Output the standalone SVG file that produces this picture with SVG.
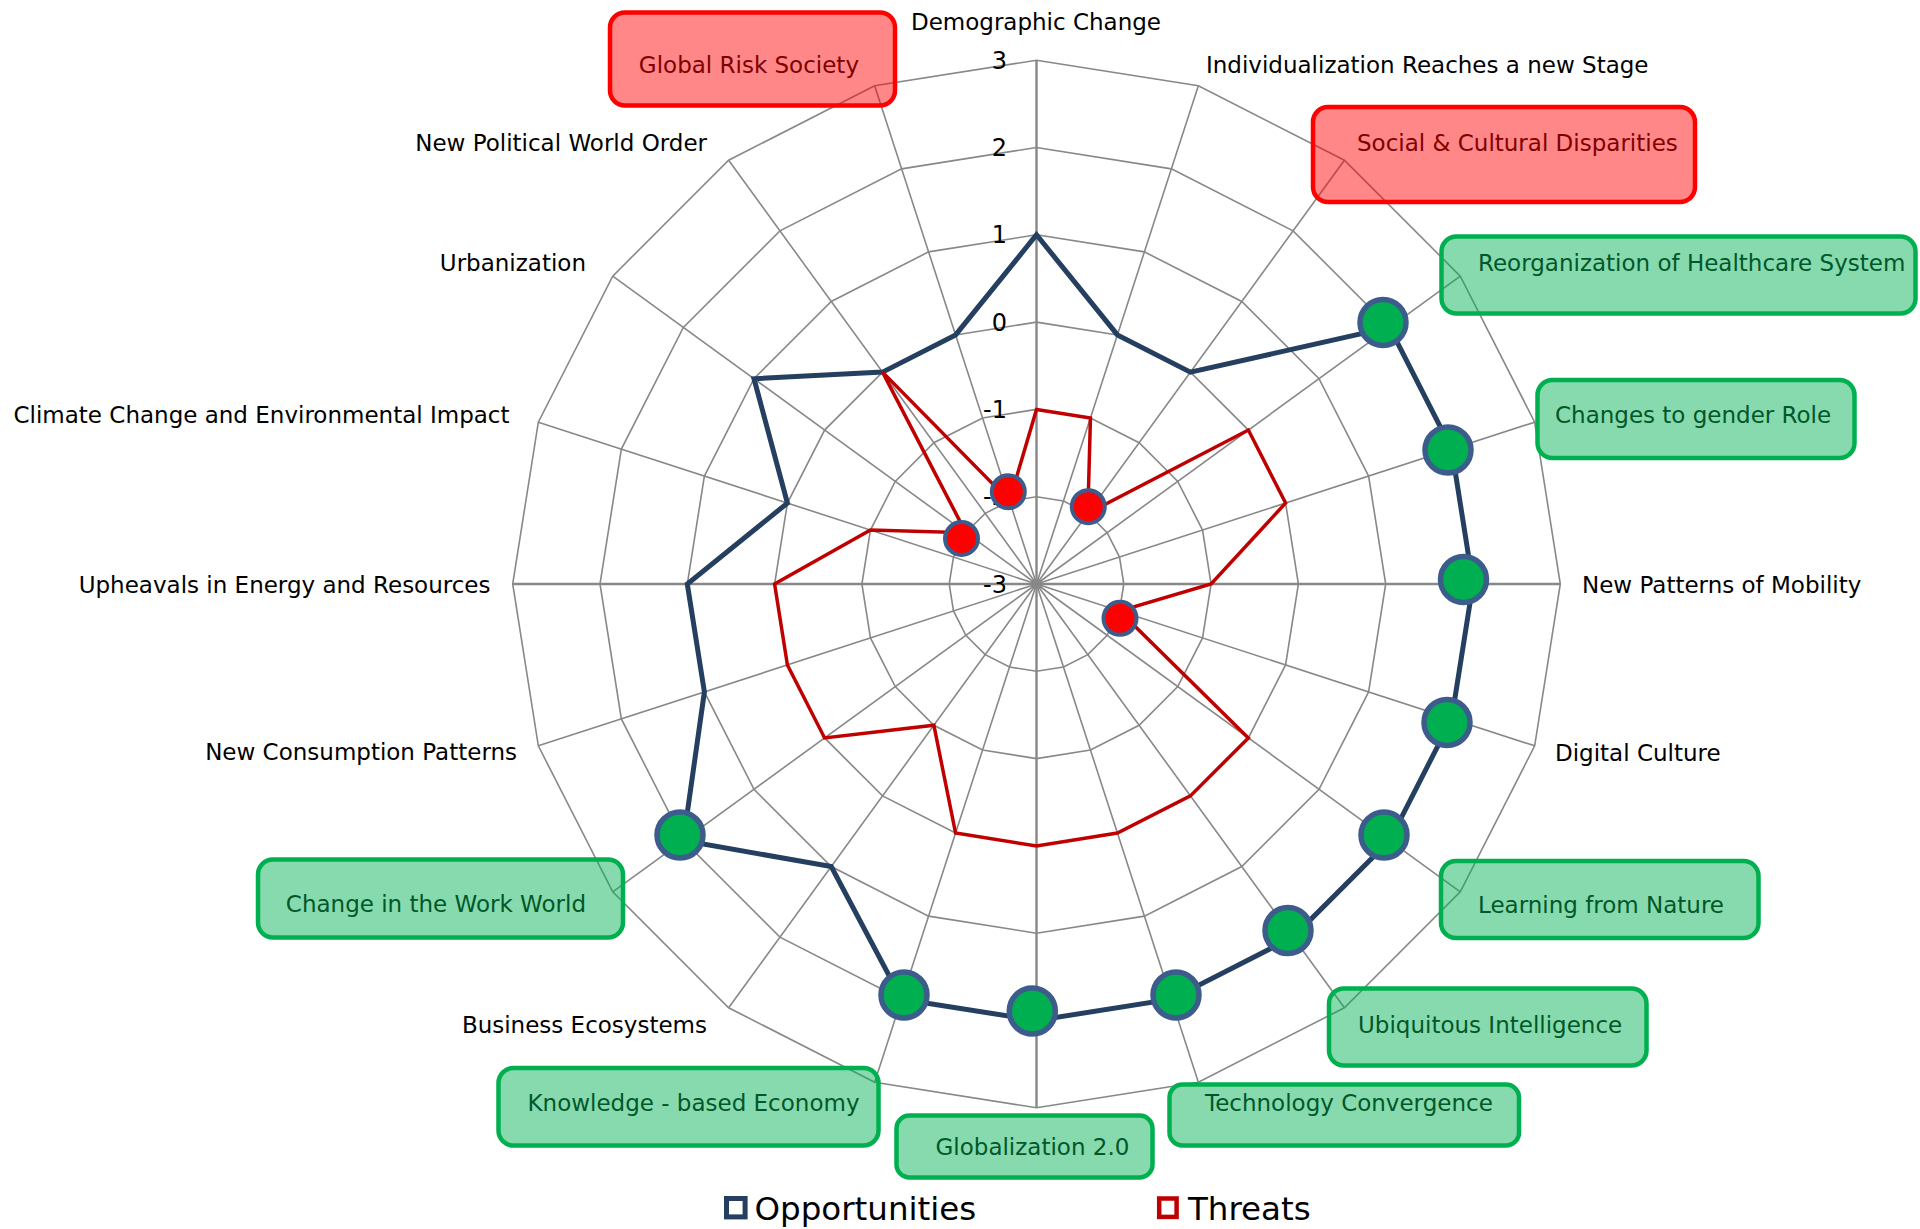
<svg xmlns="http://www.w3.org/2000/svg" width="1920" height="1229" viewBox="0 0 1920 1229">
<style>
text{font-family:"DejaVu Sans",Verdana,"Liberation Sans",sans-serif;}
.lbl{font-size:23px;fill:#000;}
.end{text-anchor:end;}
.mid{text-anchor:middle;}
.tick{font-size:24px;fill:#000;text-anchor:end;}
.ring{fill:none;stroke:#888;stroke-width:1.6;}
.spoke{fill:none;stroke:#888;stroke-width:1.6;}
.axis{fill:none;stroke:#888;stroke-width:2.4;}
.boxg{fill:#00B050;fill-opacity:0.47;stroke:#00B050;stroke-width:4.5;}
.boxr{fill:#FF0000;fill-opacity:0.47;stroke:#FF0000;stroke-width:4.5;}
.tg{fill:#00582A;}
.tr{fill:#800000;}
.opp{fill:none;stroke:#243F60;stroke-width:5;stroke-linejoin:miter;}
.thr{fill:none;stroke:#C00000;stroke-width:3.5;stroke-linejoin:miter;}
.gdot{fill:#00B050;stroke:#3C5D8C;stroke-width:5.5;}
.rdot{fill:#FF0000;stroke:#3C5D8C;stroke-width:4;}
.leg{font-size:32.5px;fill:#000;}
</style>
<rect x="0" y="0" width="1920" height="1229" fill="#fff"/>

<g id="grid" transform="translate(1036.5,584)">
<polygon class="ring" points="0,-87.3 26.98,-83.03 51.31,-70.63 70.63,-51.31 83.03,-26.98 87.3,0 83.03,26.98 70.63,51.31 51.31,70.63 26.98,83.03 0,87.3 -26.98,83.03 -51.31,70.63 -70.63,51.31 -83.03,26.98 -87.3,0 -83.03,-26.98 -70.63,-51.31 -51.31,-70.63 -26.98,-83.03"/>
<polygon class="ring" points="0,-174.6 53.95,-166.05 102.63,-141.25 141.25,-102.63 166.05,-53.95 174.6,0 166.05,53.95 141.25,102.63 102.63,141.25 53.95,166.05 0,174.6 -53.95,166.05 -102.63,141.25 -141.25,102.63 -166.05,53.95 -174.6,0 -166.05,-53.95 -141.25,-102.63 -102.63,-141.25 -53.95,-166.05"/>
<polygon class="ring" points="0,-261.9 80.93,-249.08 153.94,-211.88 211.88,-153.94 249.08,-80.93 261.9,0 249.08,80.93 211.88,153.94 153.94,211.88 80.93,249.08 0,261.9 -80.93,249.08 -153.94,211.88 -211.88,153.94 -249.08,80.93 -261.9,0 -249.08,-80.93 -211.88,-153.94 -153.94,-211.88 -80.93,-249.08"/>
<polygon class="ring" points="0,-349.2 107.91,-332.11 205.26,-282.51 282.51,-205.26 332.11,-107.91 349.2,0 332.11,107.91 282.51,205.26 205.26,282.51 107.91,332.11 0,349.2 -107.91,332.11 -205.26,282.51 -282.51,205.26 -332.11,107.91 -349.2,0 -332.11,-107.91 -282.51,-205.26 -205.26,-282.51 -107.91,-332.11"/>
<polygon class="ring" points="0,-436.5 134.89,-415.14 256.57,-353.14 353.14,-256.57 415.14,-134.89 436.5,0 415.14,134.89 353.14,256.57 256.57,353.14 134.89,415.14 0,436.5 -134.89,415.14 -256.57,353.14 -353.14,256.57 -415.14,134.89 -436.5,0 -415.14,-134.89 -353.14,-256.57 -256.57,-353.14 -134.89,-415.14"/>
<polygon class="ring" points="0,-523.8 161.86,-498.17 307.88,-423.76 423.76,-307.88 498.17,-161.86 523.8,0 498.17,161.86 423.76,307.88 307.88,423.76 161.86,498.17 0,523.8 -161.86,498.17 -307.88,423.76 -423.76,307.88 -498.17,161.86 -523.8,0 -498.17,-161.86 -423.76,-307.88 -307.88,-423.76 -161.86,-498.17"/>
<path class="spoke" d="M0,0L161.86,-498.17M0,0L307.88,-423.76M0,0L423.76,-307.88M0,0L498.17,-161.86M0,0L498.17,161.86M0,0L423.76,307.88M0,0L307.88,423.76M0,0L161.86,498.17M0,0L-161.86,498.17M0,0L-307.88,423.76M0,0L-423.76,307.88M0,0L-498.17,161.86M0,0L-498.17,-161.86M0,0L-423.76,-307.88M0,0L-307.88,-423.76M0,0L-161.86,-498.17"/>
<path class="axis" d="M0,523.8L0,-523.8M-523.8,0L523.8,0"/>
</g>

<g id="ticks">
<text class="tick" x="1007" y="69">3</text>
<text class="tick" x="1007" y="156">2</text>
<text class="tick" x="1007" y="243">1</text>
<text class="tick" x="1007" y="331">0</text>
<text class="tick" x="1007" y="418">-1</text>
<text class="tick" x="1007" y="505">-2</text>
<text class="tick" x="1007" y="593">-3</text>
</g>

<g id="cat-demographic-change"><text class="lbl mid" x="1036" y="30">Demographic Change</text></g>
<g id="cat-individualization"><text class="lbl" x="1206" y="73">Individualization Reaches a new Stage</text></g>
<g id="cat-social-cultural"><rect class="boxr" x="1313" y="107" width="382" height="95" rx="15"/><text class="lbl tr" x="1357" y="151">Social &amp; Cultural Disparities</text></g>
<g id="cat-healthcare"><rect class="boxg" x="1441.5" y="236.5" width="474" height="77" rx="15"/><text class="lbl tg" x="1478" y="271">Reorganization of Healthcare System</text></g>
<g id="cat-gender"><rect class="boxg" x="1537.5" y="380" width="317" height="78" rx="15"/><text class="lbl tg" x="1555" y="423">Changes to gender Role</text></g>
<g id="cat-mobility"><text class="lbl" x="1582" y="593">New Patterns of Mobility</text></g>
<g id="cat-digital"><text class="lbl" x="1555" y="761">Digital Culture</text></g>
<g id="cat-nature"><rect class="boxg" x="1441" y="861" width="317.5" height="77" rx="15"/><text class="lbl tg" x="1478" y="913">Learning from Nature</text></g>
<g id="cat-ubiquitous"><rect class="boxg" x="1329" y="988.5" width="317.5" height="77" rx="15"/><text class="lbl tg" x="1358" y="1033">Ubiquitous Intelligence</text></g>
<g id="cat-technology"><rect class="boxg" x="1169.5" y="1084.5" width="349.5" height="61" rx="13"/><text class="lbl tg" x="1205" y="1111">Technology Convergence</text></g>
<g id="cat-globalization"><rect class="boxg" x="896.5" y="1115.5" width="256" height="62" rx="13"/><text class="lbl tg" x="935.5" y="1155">Globalization 2.0</text></g>
<g id="cat-knowledge"><rect class="boxg" x="498.5" y="1068" width="380" height="77.5" rx="15"/><text class="lbl tg end" x="859.5" y="1111">Knowledge - based Economy</text></g>
<g id="cat-business"><text class="lbl end" x="707" y="1033">Business Ecosystems</text></g>
<g id="cat-work-world"><rect class="boxg" x="258" y="859.5" width="365" height="78" rx="15"/><text class="lbl tg end" x="586" y="912">Change in the Work World</text></g>
<g id="cat-consumption"><text class="lbl end" x="517" y="760">New Consumption Patterns</text></g>
<g id="cat-upheavals"><text class="lbl end" x="490.5" y="593">Upheavals in Energy and Resources</text></g>
<g id="cat-climate"><text class="lbl end" x="509.5" y="423">Climate Change and Environmental Impact</text></g>
<g id="cat-urbanization"><text class="lbl end" x="586" y="271">Urbanization</text></g>
<g id="cat-political"><text class="lbl end" x="707" y="151">New Political World Order</text></g>
<g id="cat-global-risk"><rect class="boxr" x="610" y="12.5" width="285" height="93" rx="15"/><text class="lbl tr end" x="859" y="73">Global Risk Society</text></g>

<g id="connectors" transform="translate(1036.5,584)">
<polygon id="series-opportunities" class="opp" points="0,-349.2 80.93,-249.08 153.94,-211.88 353.14,-256.57 415.14,-134.89 436.5,0 415.14,134.89 353.14,256.57 256.57,353.14 134.89,415.14 0,436.5 -134.89,415.14 -205.26,282.51 -353.14,256.57 -332.11,107.91 -349.2,0 -249.08,-80.93 -282.51,-205.26 -153.94,-211.88 -80.93,-249.08"/>
<polygon id="series-threats" class="thr" points="0,-174.6 53.95,-166.05 51.31,-70.63 211.88,-153.94 249.08,-80.93 174.6,0 83.03,26.98 211.88,153.94 153.94,211.88 80.93,249.08 0,261.9 -80.93,249.08 -102.63,141.25 -211.88,153.94 -249.08,80.93 -261.9,0 -166.05,-53.95 -70.63,-51.31 -153.94,-211.88 -26.98,-83.03"/>
</g>

<g id="markers" transform="translate(1036.5,584)">
<circle class="gdot" cx="346.5" cy="-261.5" r="23"/>
<circle class="gdot" cx="411.5" cy="-134" r="23"/>
<circle class="gdot" cx="427" cy="-4.5" r="23"/>
<circle class="gdot" cx="410.5" cy="138.5" r="23"/>
<circle class="gdot" cx="347.5" cy="251" r="23"/>
<circle class="gdot" cx="251.5" cy="346.5" r="23"/>
<circle class="gdot" cx="139.5" cy="411" r="23"/>
<circle class="gdot" cx="-4.2" cy="427" r="23"/>
<circle class="gdot" cx="-132.5" cy="411" r="23"/>
<circle class="gdot" cx="-356.5" cy="251" r="23"/>
<circle class="rdot" cx="51.8" cy="-77.3" r="16.5"/>
<circle class="rdot" cx="83.5" cy="34.3" r="16.5"/>
<circle class="rdot" cx="-75" cy="-45.5" r="16.5"/>
<circle class="rdot" cx="-28.2" cy="-92.3" r="16.5"/>
</g>

<g id="legend">
<rect x="726.5" y="1198.5" width="18.6" height="18.4" fill="#fff" stroke="#243F60" stroke-width="5"/>
<text class="leg" x="754.5" y="1219.5">Opportunities</text>
<rect x="1159.2" y="1198.5" width="17.4" height="18.4" fill="#fff" stroke="#C00000" stroke-width="4.5"/>
<text class="leg" x="1188" y="1219.5">Threats</text>
</g>
</svg>
